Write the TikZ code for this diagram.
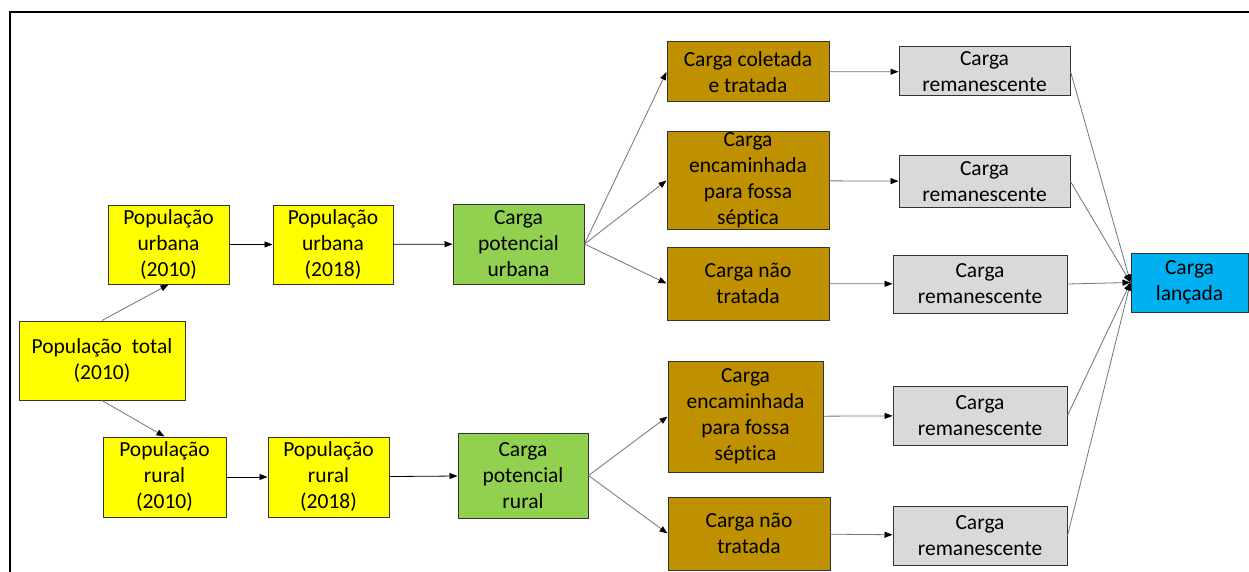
\documentclass[tikz,border=0pt]{standalone}
\usepackage{fontspec}
\setmainfont{Carlito}[Ligatures=CommonOff]
\usetikzlibrary{arrows.meta}
\definecolor{popfill}{HTML}{FFFF00}
\definecolor{potfill}{HTML}{92D050}
\definecolor{destfill}{HTML}{BF9000}
\definecolor{remfill}{HTML}{D9D9D9}
\definecolor{finalfill}{HTML}{00B0F0}
\begin{document}
\begin{tikzpicture}[x=1pt, y=-1pt,
	box/.style = {draw=black!80, line width=1pt, inner sep=0pt, align=center, font=\fontsize{21.5}{26}\selectfont},
	pop/.style = {box, fill=popfill},
	pot/.style = {box, fill=potfill},
	dest/.style = {box, fill=destfill},
	rem/.style = {box, fill=remfill},
	final/.style = {box, fill=finalfill},
	link/.style = {-{Triangle[length=8pt,width=6pt,black]}, line width=0.8pt, black!55},
	dlink/.style = {link, black}]
		\useasboundingbox (0,0) rectangle (1249,572);
		\draw[line width=1.5pt] (10,572) -- (10,12) -- (1249,12);
		\node[pop, minimum width=166pt, minimum height=79pt] (1) at (102,360.5) {População\ \ total\\(2010)};
		\node[pop, minimum width=121pt, minimum height=79pt] (2) at (168.5,244.5) {População\\urbana\\(2010)};
		\node[pop, minimum width=120pt, minimum height=79pt] (3) at (333,244.5) {População\\urbana\\(2018)};
		\node[pot, minimum width=131pt, minimum height=80pt] (4) at (518.5,244) {Carga\\potencial\\urbana};
		\node[dest, minimum width=162pt, minimum height=60pt] (5) at (748,72) {Carga coletada\\e tratada};
		\node[dest, minimum width=162pt, minimum height=97pt] (6) at (748,180.5) {Carga\\encaminhada\\para fossa\\séptica};
		\node[dest, minimum width=162pt, minimum height=73pt] (7) at (748,283.5) {Carga não\\tratada};
		\node[rem, minimum width=171pt, minimum height=49pt] (8) at (984.5,71.5) {Carga\\remanescente};
		\node[rem, minimum width=171pt, minimum height=51pt] (9) at (984.5,181.5) {Carga\\remanescente};
		\node[rem, minimum width=174pt, minimum height=58pt] (10) at (980,284) {Carga\\remanescente};
		\node[final, minimum width=117pt, minimum height=59pt] (11) at (1189.5,282.5) {Carga\\lançada};
		\node[pop, minimum width=123pt, minimum height=80pt] (12) at (164.5,477) {População\\rural\\(2010)};
		\node[pop, minimum width=121pt, minimum height=80pt] (13) at (328.5,477) {População\\rural\\(2018)};
		\node[pot, minimum width=130pt, minimum height=85pt] (14) at (523,475.5) {Carga\\potencial\\rural};
		\node[dest, minimum width=155pt, minimum height=111pt] (15) at (745.5,416.5) {Carga\\encaminhada\\para fossa\\séptica};
		\node[dest, minimum width=162pt, minimum height=73pt] (16) at (749,533.5) {Carga não\\tratada};
		\node[rem, minimum width=174pt, minimum height=59pt] (17) at (980,415.5) {Carga\\remanescente};
		\node[rem, minimum width=174pt, minimum height=59pt] (18) at (980,535.5) {Carga\\remanescente};
		\draw[link] (1.north) -- (2.south);
		\draw[link] (1.south) -- (12.north);
		\draw[dlink] (2) -- (3);
		\draw[dlink] (3) -- (4);
		\draw[link] (4.east) -- (5.west);
		\draw[link] (4.east) -- (6.west);
		\draw[link] (4.east) -- (7.west);
		\draw[link] (5) -- (8);
		\draw[link] (6) -- (9);
		\draw[link] (7) -- (10);
		\draw[dlink] (12) -- (13);
		\draw[dlink] (13) -- (14);
		\draw[link] (14.east) -- (15.west);
		\draw[link] (14.east) -- (16.west);
		\draw[link] (15) -- (17);
		\draw[link] (16) -- (18);
		\draw[link] (8.east) -- (11.west);
		\draw[link] (9.east) -- (11.west);
		\draw[link] (10.east) -- (11.west);
		\draw[link] (17.east) -- (11.west);
		\draw[link] (18.east) -- (11.west);
\end{tikzpicture}
\end{document}
